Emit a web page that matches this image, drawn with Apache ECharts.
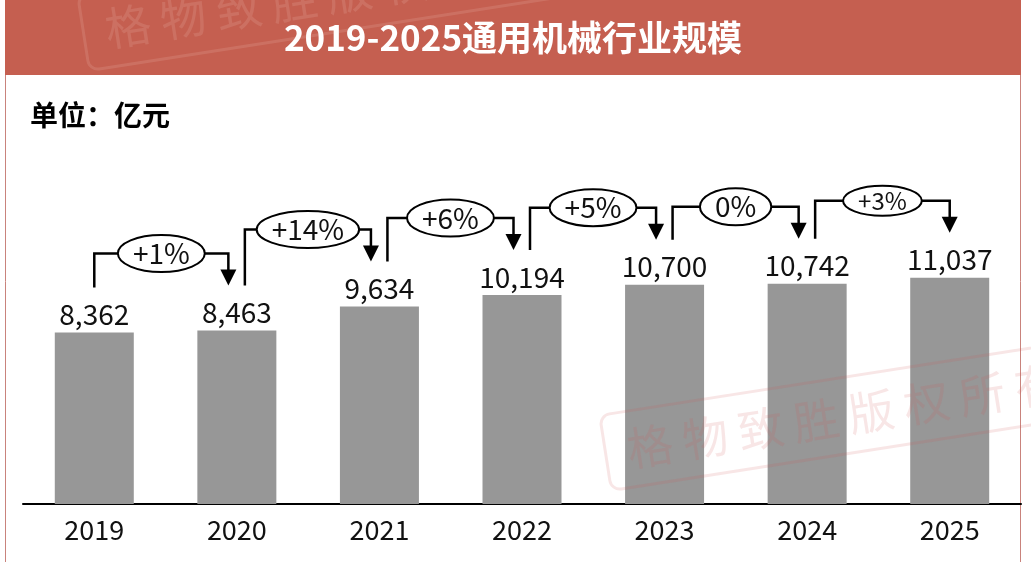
<!DOCTYPE html>
<html>
<head>
<meta charset="utf-8">
<script src="https://cdn.jsdelivr.net/npm/echarts@6/dist/echarts.min.js"></script>
<style>
html,body{margin:0;padding:0;background:#fff;}
#chart{width:1031px;height:562px;}
</style>
</head>
<body>
<div id="chart"></div>
<script>
const titleText = '2019-2025通用机械行业规模';
const unitText = '单位：亿元';
const categories = ['2019', '2020', '2021', '2022', '2023', '2024', '2025'];
const values = [8362, 8463, 9634, 10194, 10700, 10742, 11037];
const growthLabels = ['+1%', '+14%', '+6%', '+5%', '0%', '+3%'];
const watermarkText = '格物致胜版权所有';

const FONT = '"Noto Sans CJK SC", "Noto Sans", sans-serif';
const measureCtx = document.createElement('canvas').getContext('2d');
function textWidth(t, font) { measureCtx.font = font; return measureCtx.measureText(t).width; }
function addCommas(v) { return String(v).replace(/\B(?=(\d{3})+(?!\d))/g, ','); }

function stamp(x, y, color, borderColor) {
  const chars = watermarkText.split('');
  const children = chars.map((c, k) => ({
    type: 'text', x: k * 56, y: 0, z: 60,
    style: { text: c, font: '46px ' + FONT, fill: color, align: 'center', verticalAlign: 'middle' }
  }));
  children.unshift({
    type: 'rect', z: 60, shape: { x: -45, y: -38, width: 7 * 56 + 90, height: 76, r: 10 },
    style: { fill: 'none', stroke: borderColor, lineWidth: 3 }
  });
  return { type: 'group', x: x, y: y, rotation: 0.155, z: 60, silent: true, children: children };
}

const chart = echarts.init(document.getElementById('chart'));
const option = {
  animation: false,
  backgroundColor: '#fff',
  grid: { left: 23, right: 10, top: 94, bottom: 58 },
  xAxis: {
    type: 'category',
    data: categories,
    axisLine: { lineStyle: { color: '#000', width: 2 } },
    axisTick: { show: false },
    axisLabel: { fontSize: 27, color: '#111', margin: 12, fontFamily: FONT }
  },
  yAxis: { type: 'value', min: 0, max: 20000, show: false, splitLine: { show: false } },
  graphic: [
    { type: 'rect', z: 0, shape: { x: 5.5, y: 0, width: 1015, height: 570 }, style: { fill: 'none', stroke: '#c9837c', lineWidth: 1 } },
    { type: 'rect', z: 1, shape: { x: 5, y: 0, width: 1016, height: 75 }, style: { fill: '#c55f50' } },
    { type: 'text', z: 2, x: 513, y: 38, style: { text: titleText, font: 'bold 35px ' + FONT, fill: '#fff', align: 'center', verticalAlign: 'middle' } },
    { type: 'text', z: 2, x: 30, y: 115, style: { text: unitText, font: 'bold 28px ' + FONT, fill: '#000', align: 'left', verticalAlign: 'middle' } },
    stamp(128, 26, 'rgba(255,230,225,0.13)', 'rgba(255,230,225,0.13)'),
    stamp(650, 446, 'rgba(205,90,90,0.15)', 'rgba(205,90,90,0.15)')
  ],
  series: [
    {
      type: 'bar',
      data: values,
      barWidth: 79,
      itemStyle: { color: '#979797' },
      label: {
        show: true, position: 'top', distance: 4,
        fontSize: 28, color: '#111', fontFamily: FONT,
        formatter: p => addCommas(p.value)
      }
    },
    {
      type: 'custom',
      coordinateSystem: 'cartesian2d',
      clip: false,
      z: 5,
      data: growthLabels.map((g, i) => [i, values[i]]),
      renderItem: function (params, api) {
        const i = params.dataIndex;
        const last = growthLabels.length - 1;
        const p0 = api.coord([i, values[i]]);
        const p1 = api.coord([i + 1, values[i + 1]]);
        const x0 = p0[0] + (i === 0 ? 0 : 8);
        const x1 = p1[0] + (i === last ? 0 : -8.5);
        const yS = p0[1] - 45;
        const yT = p1[1] - 45;
        const yH = Math.min(yS, yT) - 32;
        const xm = (x0 + x1) / 2;
        const fs = i === last ? 24 : 28;
        const font = fs + 'px ' + FONT;
        const tw = textWidth(growthLabels[i], font);
        const rx = tw / 2 + 15;
        const ry = i === last ? 15 : 18.5;
        return {
          type: 'group',
          children: [
            { type: 'polyline', shape: { points: [[x0, yS], [x0, yH], [x1, yH], [x1, yT - 15]] }, style: { stroke: '#000', lineWidth: 2.5, fill: null } },
            { type: 'polygon', shape: { points: [[x1 - 8, yT - 16], [x1 + 8, yT - 16], [x1, yT]] }, style: { fill: '#000' } },
            { type: 'ellipse', shape: { cx: xm, cy: yH, rx: rx, ry: ry }, style: { fill: '#fff', stroke: '#000', lineWidth: 2 } },
            { type: 'text', x: xm, y: yH, style: { text: growthLabels[i], font: font, fill: '#111', align: 'center', verticalAlign: 'middle' } }
          ]
        };
      }
    }
  ]
};
chart.setOption(option);
</script>
</body>
</html>
